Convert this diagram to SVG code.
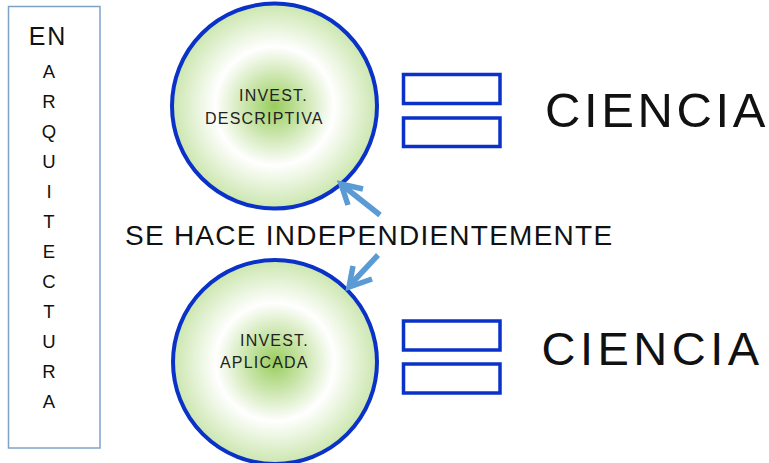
<svg xmlns="http://www.w3.org/2000/svg" width="769" height="463" viewBox="0 0 769 463">
<style>
text{font-family:"Liberation Sans",Arial,sans-serif;fill:#111}
.col{font-size:18.5px;text-anchor:middle}
.ct{font-size:16px;letter-spacing:1.2px;fill:#222}
.bub{fill:url(#g);stroke:#0a32c8;stroke-width:4}
.bar{fill:#fff;stroke:#0a32c8;stroke-width:3.5}
.arr{fill:none;stroke:#5b9bd5;stroke-width:5.5;stroke-linecap:butt;stroke-linejoin:miter}
</style>
<defs>
<radialGradient id="g" cx="0.5" cy="0.5" r="0.5">
<stop offset="0" stop-color="#98cd5c"/>
<stop offset="0.58" stop-color="#ffffff"/>
<stop offset="1" stop-color="#cbe6ae"/>
</radialGradient>
</defs>
<rect width="769" height="463" fill="#fff"/>
<g id="enarquitectura">
<rect x="8.5" y="6.5" width="91.5" height="441.5" fill="#fff" stroke="#7fa3c8" stroke-width="1.5"/>
<text x="48" y="45" font-size="25" text-anchor="middle" letter-spacing="2">EN</text>
<text class="col" x="49" y="78">A</text>
<text class="col" x="49" y="108">R</text>
<text class="col" x="49" y="138">Q</text>
<text class="col" x="49" y="168">U</text>
<text class="col" x="49" y="198">I</text>
<text class="col" x="49" y="228">T</text>
<text class="col" x="49" y="258">E</text>
<text class="col" x="49" y="288">C</text>
<text class="col" x="49" y="318">T</text>
<text class="col" x="49" y="348">U</text>
<text class="col" x="49" y="378">R</text>
<text class="col" x="49" y="408">A</text>
</g>
<g id="descriptiva">
<circle class="bub" cx="274.5" cy="106" r="102.5"/>
<text class="ct" x="239" y="101">INVEST.</text>
<text class="ct" x="205" y="124">DESCRIPTIVA</text>
</g>
<g id="aplicada">
<circle class="bub" cx="275" cy="362" r="102"/>
<text class="ct" x="240" y="346">INVEST.</text>
<text class="ct" x="220" y="368">APLICADA</text>
</g>
<g id="ciencia1">
<rect class="bar" x="403.5" y="74.5" width="96.5" height="29"/>
<rect class="bar" x="403.5" y="118" width="96.5" height="28.5"/>
<text x="545" y="126.5" font-size="49" letter-spacing="3.6">CIENCIA</text>
</g>
<g id="ciencia2">
<rect class="bar" x="403.5" y="321" width="96.5" height="29"/>
<rect class="bar" x="403.5" y="364" width="96.5" height="29"/>
<text x="541.5" y="365" font-size="47" letter-spacing="4.5">CIENCIA</text>
</g>
<g id="label">
<text x="125" y="245" font-size="28" letter-spacing="1.25">SE HACE INDEPENDIENTEMENTE</text>
</g>
<g id="connectors">
<path class="arr" d="M380 215 L342 185"/>
<path class="arr" d="M363 189 L341 184 L348 205"/>
<path class="arr" d="M378 255 L350 285"/>
<path class="arr" d="M353 266 L349 287 L372 279"/>
</g>
</svg>
